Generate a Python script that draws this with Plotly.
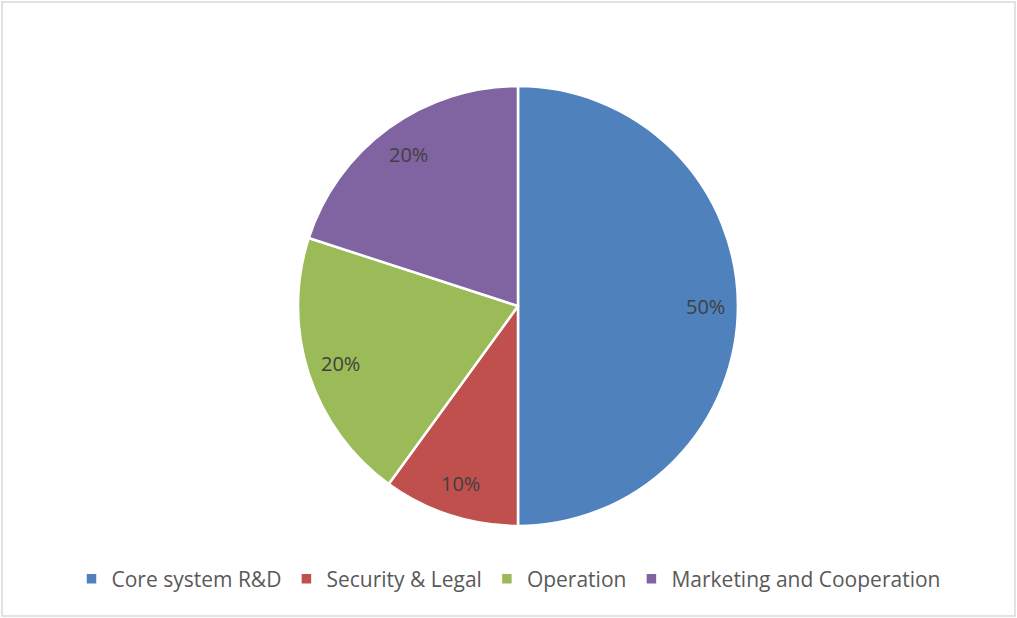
import math
import plotly.graph_objects as go

labels = ["Core system R&D", "Security & Legal", "Operation", "Marketing and Cooperation"]
values = [50, 10, 20, 20]
colors = ["#4F81BD", "#C0504D", "#9BBB59", "#8064A2"]

W, H = 1017, 618
cx, cy, r = 518, 306, 220  # pixel layout of pie

dom_x = [(cx - r) / W, (cx + r) / W]
dom_y = [(H - cy - r) / H, (H - cy + r) / H]

fig = go.Figure()
fig.add_trace(go.Pie(
    labels=labels, values=values, sort=False, direction="clockwise", rotation=0,
    marker=dict(colors=colors, line=dict(color="white", width=2.5)),
    textinfo="none", hoverinfo="label+percent",
    domain=dict(x=dom_x, y=dom_y),
))

# percent labels placed along each slice's mid-angle at 0.85 of the radius
total = sum(values)
start = 0.0
ann = []
for v in values:
    mid = start + v / total / 2
    ang = 2 * math.pi * mid
    px = cx + 0.85 * r * math.sin(ang)
    py = cy - 0.85 * r * math.cos(ang)
    ann.append(dict(x=px / W, y=1 - py / H, xref="paper", yref="paper",
                    xanchor="center", yanchor="middle",
                    text=f"{round(v / total * 100)}%", showarrow=False,
                    font=dict(family="Open Sans", size=20, color="#404040")))
    start += v / total

fig.update_layout(
    width=W, height=H,
    margin=dict(l=0, r=0, t=0, b=0),
    paper_bgcolor="white",
    annotations=ann,
    showlegend=True,
    legend=dict(orientation="h", x=0.5, xanchor="center", y=1 - 579 / H, yanchor="middle",
                font=dict(family="Open Sans", size=21, color="#595959"),
                itemwidth=30, tracegroupgap=0),
    shapes=[dict(type="rect", xref="paper", yref="paper",
                 x0=2 / W, x1=1015 / W, y0=1 - 616 / H, y1=1 - 2 / H,
                 line=dict(color="#D9D9D9", width=1.5))],
)

fig.write_html("out.html")
